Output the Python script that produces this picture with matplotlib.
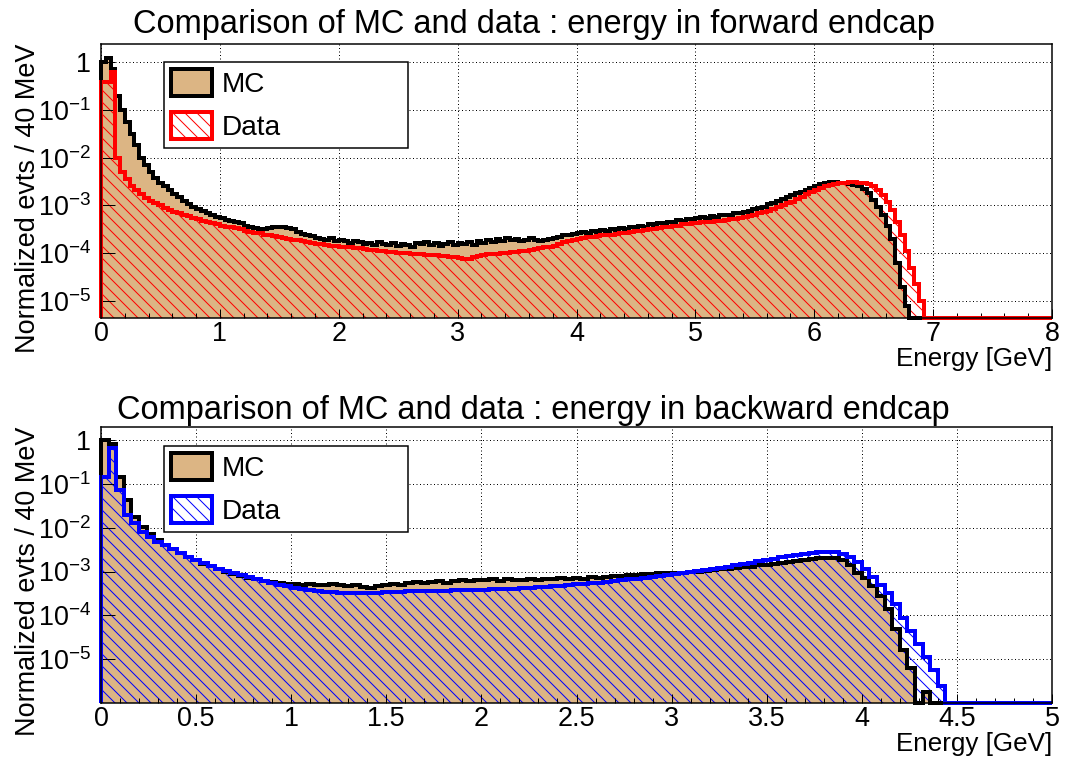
import numpy as np
import matplotlib
matplotlib.use("Agg")
import matplotlib.pyplot as plt
from matplotlib.patches import Patch
from matplotlib.ticker import LogLocator, NullFormatter, AutoMinorLocator

plt.rcParams['font.family'] = 'Liberation Sans'
plt.rcParams['mathtext.default'] = 'regular'
plt.rcParams['hatch.linewidth'] = 1.0

TAN = '#dcb584'
HATCH = '\\\\'

# forward endcap, 40 MeV bins from 0 to 8 GeV
fwd_mc = [
    1.0, 1.2, 0.71, 0.20, 0.10, 0.056, 0.032, 0.018, 0.010, 7.1e-3,
    5.0e-3, 3.8e-3, 3.0e-3, 2.5e-3, 2.1e-3, 1.74e-3, 1.48e-3, 1.26e-3, 1.07e-3, 9.5e-4,
    8.5e-4, 7.6e-4, 6.8e-4, 6.3e-4, 5.75e-4, 5.4e-4, 5.0e-4, 4.8e-4, 4.4e-4, 4.2e-4,
    3.8e-4, 3.6e-4, 3.4e-4, 3.2e-4, 3.2e-4, 3.3e-4, 3.55e-4, 3.5e-4, 3.55e-4, 3.3e-4,
    3.2e-4, 2.8e-4, 2.5e-4, 2.4e-4, 2.24e-4, 2.1e-4, 2.0e-4, 1.9e-4, 2.1e-4, 1.8e-4,
    1.9e-4, 1.78e-4, 1.66e-4, 1.8e-4, 1.7e-4, 1.58e-4, 1.66e-4, 1.5e-4, 1.74e-4, 1.58e-4,
    1.48e-4, 1.62e-4, 1.41e-4, 1.58e-4, 1.5e-4, 1.38e-4, 1.66e-4, 1.55e-4, 1.74e-4, 1.5e-4,
    1.66e-4, 1.45e-4, 1.58e-4, 1.7e-4, 1.5e-4, 1.66e-4, 1.58e-4, 1.74e-4, 1.5e-4, 1.78e-4,
    1.66e-4, 1.9e-4, 1.74e-4, 2.0e-4, 1.8e-4, 2.1e-4, 1.9e-4, 2.0e-4, 1.8e-4, 1.9e-4,
    2.1e-4, 1.9e-4, 1.78e-4, 1.9e-4, 2.0e-4, 2.1e-4, 2.2e-4, 2.35e-4, 2.4e-4, 2.5e-4,
    2.6e-4, 2.75e-4, 2.7e-4, 2.9e-4, 2.8e-4, 3.0e-4, 2.95e-4, 3.2e-4, 3.1e-4, 3.3e-4,
    3.2e-4, 3.5e-4, 3.55e-4, 3.8e-4, 3.6e-4, 4.0e-4, 3.9e-4, 4.3e-4, 4.2e-4, 4.5e-4,
    4.6e-4, 4.9e-4, 4.8e-4, 5.1e-4, 5.2e-4, 5.4e-4, 5.6e-4, 5.5e-4, 5.9e-4, 5.75e-4,
    6.2e-4, 6.3e-4, 6.3e-4, 6.8e-4, 6.9e-4, 7.4e-4, 7.8e-4, 8.3e-4, 8.9e-4, 9.5e-4,
    1.05e-3, 1.12e-3, 1.26e-3, 1.35e-3, 1.48e-3, 1.62e-3, 1.78e-3, 1.95e-3, 2.14e-3, 2.34e-3,
    2.5e-3, 2.75e-3, 3.0e-3, 3.1e-3, 3.1e-3, 3.0e-3, 2.95e-3, 2.8e-3, 2.7e-3, 2.5e-3,
    2.2e-3, 1.78e-3, 1.32e-3, 9.3e-4, 6.3e-4, 3.8e-4, 2.0e-4, 6.3e-5, 2.0e-5, 7.9e-6,
    0, 0, 0, 0, 0, 0, 0, 0, 0, 0,
    0, 0, 0, 0, 0, 0, 0, 0, 0, 0,
    0, 0, 0, 0, 0, 0, 0, 0, 0, 0,
]
fwd_data = [
    0.38, 0.38, 0.63, 0.010, 5.0e-3, 3.55e-3, 2.6e-3, 2.1e-3, 1.7e-3, 1.45e-3,
    1.26e-3, 1.1e-3, 1.0e-3, 8.9e-4, 7.9e-4, 7.4e-4, 6.8e-4, 6.3e-4, 5.9e-4, 5.5e-4,
    5.1e-4, 4.8e-4, 4.5e-4, 4.3e-4, 4.0e-4, 3.8e-4, 3.6e-4, 3.5e-4, 3.3e-4, 3.2e-4,
    2.95e-4, 2.8e-4, 2.7e-4, 2.6e-4, 2.45e-4, 2.35e-4, 2.24e-4, 2.2e-4, 2.1e-4, 2.0e-4,
    1.9e-4, 1.86e-4, 1.78e-4, 1.7e-4, 1.66e-4, 1.58e-4, 1.55e-4, 1.5e-4, 1.45e-4, 1.41e-4,
    1.38e-4, 1.35e-4, 1.32e-4, 1.29e-4, 1.26e-4, 1.2e-4, 1.17e-4, 1.15e-4, 1.12e-4, 1.1e-4,
    1.07e-4, 1.05e-4, 1.02e-4, 1.0e-4, 1.0e-4, 9.8e-5, 9.5e-5, 9.5e-5, 9.3e-5, 9.3e-5,
    9.1e-5, 8.9e-5, 8.7e-5, 8.5e-5, 8.3e-5, 7.9e-5, 7.6e-5, 7.6e-5, 8.3e-5, 8.9e-5,
    9.3e-5, 9.5e-5, 9.5e-5, 9.8e-5, 1.0e-4, 1.0e-4, 1.05e-4, 1.07e-4, 1.1e-4, 1.12e-4,
    1.17e-4, 1.2e-4, 1.26e-4, 1.32e-4, 1.38e-4, 1.45e-4, 1.58e-4, 1.7e-4, 1.8e-4, 1.9e-4,
    2.0e-4, 2.04e-4, 2.14e-4, 2.2e-4, 2.24e-4, 2.35e-4, 2.4e-4, 2.45e-4, 2.5e-4, 2.6e-4,
    2.7e-4, 2.75e-4, 2.9e-4, 2.95e-4, 3.0e-4, 3.2e-4, 3.25e-4, 3.4e-4, 3.5e-4, 3.55e-4,
    3.7e-4, 3.8e-4, 4.0e-4, 4.1e-4, 4.2e-4, 4.3e-4, 4.4e-4, 4.5e-4, 4.6e-4, 4.7e-4,
    4.8e-4, 4.9e-4, 5.1e-4, 5.2e-4, 5.5e-4, 5.75e-4, 6.0e-4, 6.3e-4, 6.8e-4, 7.2e-4,
    7.8e-4, 8.3e-4, 9.1e-4, 1.0e-3, 1.1e-3, 1.2e-3, 1.35e-3, 1.5e-3, 1.7e-3, 1.9e-3,
    2.1e-3, 2.3e-3, 2.5e-3, 2.7e-3, 2.8e-3, 2.95e-3, 3.0e-3, 3.1e-3, 3.1e-3, 3.0e-3,
    2.95e-3, 2.75e-3, 2.5e-3, 2.14e-3, 1.66e-3, 1.2e-3, 7.9e-4, 4.5e-4, 2.4e-4, 1.12e-4,
    5.0e-5, 2.24e-5, 1.0e-5, 0, 0, 0, 0, 0, 0, 0,
    0, 0, 0, 0, 0, 0, 0, 0, 0, 0,
    0, 0, 0, 0, 0, 0, 0, 0, 0, 0,
]

# backward endcap, 40 MeV bins from 0 to 5 GeV
bwd_mc = [
    1.0, 0.83, 0.145, 0.043, 0.018, 0.0107, 7.4e-3, 5.2e-3, 4.1e-3, 3.2e-3,
    2.6e-3, 2.2e-3, 1.8e-3, 1.5e-3, 1.32e-3, 1.12e-3, 1.0e-3, 8.7e-4, 7.9e-4, 7.2e-4,
    6.6e-4, 6.2e-4, 5.75e-4, 5.5e-4, 5.2e-4, 5.1e-4, 5.0e-4, 5.2e-4, 5.0e-4, 4.9e-4,
    5.1e-4, 5.0e-4, 4.8e-4, 5.0e-4, 4.5e-4, 4.2e-4, 4.7e-4, 5.0e-4, 5.2e-4, 5.0e-4,
    5.5e-4, 5.75e-4, 5.4e-4, 5.9e-4, 6.0e-4, 5.6e-4, 6.2e-4, 6.3e-4, 6.0e-4, 6.5e-4,
    6.3e-4, 6.6e-4, 6.2e-4, 6.9e-4, 6.5e-4, 6.3e-4, 6.8e-4, 6.5e-4, 6.9e-4, 6.6e-4,
    7.1e-4, 6.8e-4, 7.2e-4, 6.9e-4, 7.4e-4, 7.2e-4, 7.6e-4, 7.8e-4, 7.9e-4, 8.3e-4,
    8.5e-4, 8.7e-4, 8.7e-4, 9.1e-4, 9.1e-4, 9.5e-4, 9.5e-4, 1.0e-3, 1.0e-3, 1.05e-3,
    1.07e-3, 1.12e-3, 1.12e-3, 1.2e-3, 1.26e-3, 1.29e-3, 1.38e-3, 1.41e-3, 1.48e-3, 1.58e-3,
    1.62e-3, 1.74e-3, 1.8e-3, 1.9e-3, 2.0e-3, 2.04e-3, 2.04e-3, 1.86e-3, 1.38e-3, 9.5e-4,
    7.1e-4, 4.8e-4, 2.8e-4, 1.41e-4, 5.0e-5, 1.6e-5, 6.3e-6, 0, 1.8e-6, 0,
    0, 0, 0, 0, 0, 0, 0, 0, 0, 0,
    0, 0, 0, 0, 0,
]
bwd_data = [
    0.145, 0.65, 0.072, 0.0195, 0.0126, 8.1e-3, 6.3e-3, 4.8e-3, 4.0e-3, 3.2e-3,
    2.6e-3, 2.2e-3, 1.8e-3, 1.58e-3, 1.35e-3, 1.17e-3, 1.05e-3, 9.3e-4, 8.3e-4, 7.4e-4,
    6.6e-4, 6.0e-4, 5.5e-4, 5.0e-4, 4.6e-4, 4.3e-4, 4.0e-4, 3.8e-4, 3.6e-4, 3.5e-4,
    3.4e-4, 3.3e-4, 3.25e-4, 3.25e-4, 3.25e-4, 3.3e-4, 3.3e-4, 3.4e-4, 3.4e-4, 3.5e-4,
    3.55e-4, 3.55e-4, 3.6e-4, 3.6e-4, 3.7e-4, 3.7e-4, 3.8e-4, 3.8e-4, 3.8e-4, 3.9e-4,
    3.9e-4, 4.0e-4, 4.0e-4, 4.1e-4, 4.1e-4, 4.2e-4, 4.3e-4, 4.4e-4, 4.5e-4, 4.6e-4,
    4.8e-4, 4.9e-4, 5.1e-4, 5.2e-4, 5.5e-4, 5.6e-4, 5.9e-4, 6.2e-4, 6.3e-4, 6.6e-4,
    6.9e-4, 7.2e-4, 7.6e-4, 7.9e-4, 8.3e-4, 8.9e-4, 9.3e-4, 1.0e-3, 1.05e-3, 1.1e-3,
    1.15e-3, 1.2e-3, 1.29e-3, 1.38e-3, 1.48e-3, 1.58e-3, 1.7e-3, 1.8e-3, 1.95e-3, 2.1e-3,
    2.24e-3, 2.4e-3, 2.5e-3, 2.6e-3, 2.75e-3, 2.8e-3, 2.75e-3, 2.5e-3, 2.1e-3, 1.62e-3,
    1.12e-3, 7.6e-4, 5.0e-4, 3.2e-4, 1.78e-4, 8.9e-5, 4.5e-5, 2.24e-5, 1.12e-5, 5.6e-6,
    2.5e-6, 0, 0, 0, 0, 0, 0, 0, 0, 0,
    0, 0, 0, 0, 0,
]

fwd_edges = np.linspace(0, 8, len(fwd_mc) + 1)
bwd_edges = np.linspace(0, 5, len(bwd_mc) + 1)
fwd_xticks = [0, 1, 2, 3, 4, 5, 6, 7, 8]
bwd_xticks = [0, 0.5, 1, 1.5, 2, 2.5, 3, 3.5, 4, 4.5, 5]
y_ticks = [1e-5, 1e-4, 1e-3, 1e-2, 1e-1, 1]
y_labels = ['$10^{-5}$', '$10^{-4}$', '$10^{-3}$', '$10^{-2}$', '$10^{-1}$', '1']

W, H = 1067, 760
fig = plt.figure(figsize=(W / 72, H / 72), dpi=72)


def draw_panel(ax, edges, mc, data, color, ylim, xticks, title, title_y, leg_top):
    mc = np.asarray(mc)
    data = np.asarray(data)
    ymin, ymax = ylim
    ax.set_yscale('log')
    ax.set_xlim(edges[0], edges[-1])
    ax.set_ylim(ymin, ymax)

    # empty bins sit on the bottom of the frame, like ROOT does
    mc_plot = np.where(mc > 0, mc, ymin)
    data_plot = np.where(data > 0, data, ymin)
    ax.stairs(mc_plot, edges, baseline=ymin, fill=True, facecolor=TAN,
              edgecolor='none', lw=0, zorder=1)
    ax.stairs(data_plot, edges, baseline=ymin, fill=True, facecolor='none',
              edgecolor=color, hatch=HATCH, lw=0, zorder=1.1)
    ax.stairs(mc_plot, edges, baseline=ymin, color='black', lw=4,
              zorder=2, clip_on=False)
    ax.stairs(data_plot, edges, baseline=ymin, color=color, lw=4,
              zorder=2.1, clip_on=False)

    # dotted grid kept under the histograms
    for xt in xticks:
        ax.axvline(xt, color='black', lw=1, ls=(0, (1, 2.5)), zorder=0.5)
    for yt in y_ticks:
        ax.axhline(yt, color='black', lw=1, ls=(0, (1, 2.5)), zorder=0.5)

    ax.set_xticks(xticks, ['%g' % t for t in xticks])
    ax.xaxis.set_minor_locator(AutoMinorLocator(5))
    ax.set_yticks(y_ticks, y_labels)
    ax.yaxis.set_minor_locator(LogLocator(base=10, subs=np.arange(2, 10)))
    ax.yaxis.set_minor_formatter(NullFormatter())
    ax.tick_params(which='both', direction='in', top=False, right=False,
                   labelsize=27, width=1)
    ax.tick_params(axis='y', which='major', length=14, pad=10)
    ax.tick_params(axis='y', which='minor', length=7)
    ax.tick_params(axis='x', which='major', length=9, pad=3)
    ax.tick_params(axis='x', which='minor', length=5)
    for s in ax.spines.values():
        s.set_linewidth(1.5)

    ax.set_xlabel('Energy [GeV]', loc='right', fontsize=26)
    ax.xaxis.label.set_va('center')
    ax.xaxis.set_label_coords(1.0, -0.148)
    ax.set_ylabel('Normalized evts / 40 MeV', loc='top', fontsize=27)
    ax.yaxis.set_label_coords(-0.063, 1.0)

    fig.text(0.5, 1 - title_y / H, title, ha='center', va='center', fontsize=32.5)

    handles = [Patch(facecolor=TAN, edgecolor='black', lw=4, label='MC'),
               Patch(facecolor='white', edgecolor=color, hatch=HATCH, lw=4, label='Data')]
    leg = ax.legend(handles=handles, loc='upper left',
                    bbox_to_anchor=(164 / W, 1 - leg_top / H, 244 / W, 0),
                    bbox_transform=fig.transFigure, mode='expand',
                    borderaxespad=0, borderpad=0.25, labelspacing=0.5,
                    handlelength=1.46, handleheight=1.1, handletextpad=0.36,
                    fontsize=28, fancybox=False, framealpha=1)
    leg.get_frame().set_edgecolor('black')
    leg.get_frame().set_linewidth(1.5)


ax1 = fig.add_axes([101 / W, 1 - 318 / H, 951 / W, 274 / H])
ax2 = fig.add_axes([101 / W, 1 - 703 / H, 951 / W, 276 / H])

draw_panel(ax1, fwd_edges, fwd_mc, fwd_data, 'red', (4.4e-6, 2.4), fwd_xticks,
           'Comparison of MC and data : energy in forward endcap', 25, 62)
draw_panel(ax2, bwd_edges, bwd_mc, bwd_data, 'blue', (1.0e-6, 2.0), bwd_xticks,
           'Comparison of MC and data : energy in backward endcap', 411, 446)

fig.savefig('out.png', dpi=72)
